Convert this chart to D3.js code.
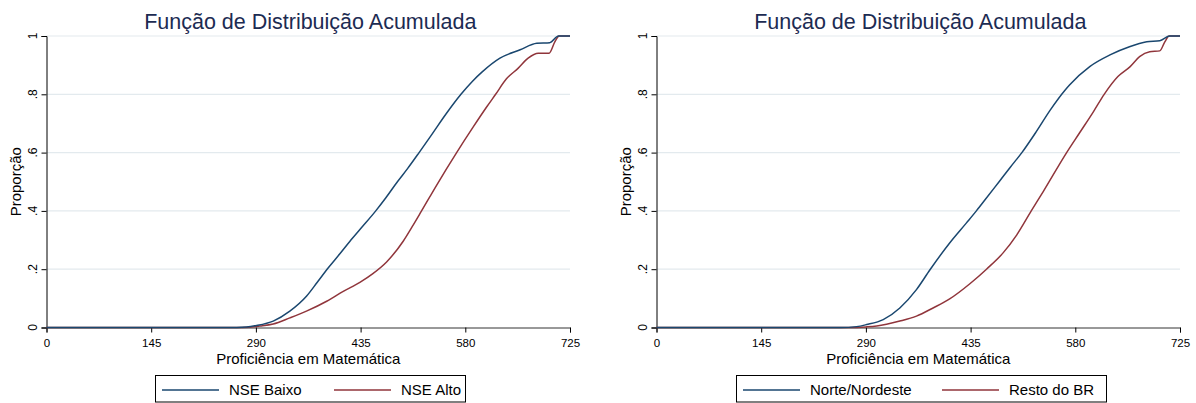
<!DOCTYPE html>
<html><head><meta charset="utf-8">
<script src="https://cdn.jsdelivr.net/npm/d3@7/dist/d3.min.js"></script>
<style>
body{margin:0;background:#fff}
svg{display:block}
text{font-family:"Liberation Sans",Arial,Helvetica,sans-serif}
</style>
</head><body>
<svg id="chart" width="1196" height="403"></svg>
<script>
// ---------- data ----------
const xTicks = [0, 145, 290, 435, 580, 725];
const yTicks = [0, 0.2, 0.4, 0.6, 0.8, 1];
const yTickLabels = ["0", ".2", ".4", ".6", ".8", "1"];
const chartTitle = "Função de Distribuição Acumulada";
const xTitle = "Proficiência em Matemática";
const yTitle = "Proporção";

// Left panel: NSE
const nseBaixoScore = [0, 250, 277, 291, 314, 337, 360, 375, 390, 406, 420, 434, 456, 470, 486, 500, 516, 533, 554, 574, 590, 603, 628, 656, 679, 697, 709, 725];
const nseBaixoProp  = [0, 0, 0.002, 0.007, 0.022, 0.056, 0.107, 0.155, 0.204, 0.252, 0.295, 0.336, 0.4, 0.445, 0.5, 0.545, 0.6, 0.66, 0.735, 0.8, 0.845, 0.876, 0.924, 0.953, 0.975, 0.977, 1, 1];
const nseAltoScore  = [0, 262, 280, 296, 314, 337, 360, 388, 411, 434, 452, 471, 494, 508, 519, 540, 568, 591, 610, 622, 637, 653, 667, 681, 696, 704, 710, 725];
const nseAltoProp   = [0, 0, 0.001, 0.005, 0.012, 0.033, 0.056, 0.09, 0.124, 0.155, 0.185, 0.225, 0.296, 0.352, 0.398, 0.487, 0.6, 0.688, 0.758, 0.8, 0.853, 0.889, 0.924, 0.941, 0.941, 0.98, 1, 1];

// Right panel: Região
const norteScore = [0, 255, 277, 291, 314, 337, 360, 379, 406, 429, 443, 455, 475, 490, 506, 526, 545, 566, 572, 600, 628, 655, 679, 697, 711, 725];
const norteProp  = [0, 0, 0.003, 0.01, 0.027, 0.067, 0.13, 0.199, 0.29, 0.358, 0.4, 0.438, 0.502, 0.55, 0.6, 0.672, 0.745, 0.815, 0.832, 0.895, 0.935, 0.963, 0.98, 0.984, 1, 1];
const restoScore = [0, 265, 290, 305, 337, 360, 383, 406, 434, 457, 480, 499, 519, 536, 568, 586, 605, 620, 639, 656, 669, 683, 697, 704, 710, 725];
const restoProp  = [0, 0, 0.002, 0.005, 0.022, 0.039, 0.067, 0.098, 0.15, 0.2, 0.256, 0.318, 0.4, 0.468, 0.6, 0.668, 0.74, 0.8, 0.861, 0.895, 0.929, 0.946, 0.949, 0.98, 1, 1];

const legendLeft  = ["NSE Baixo", "NSE Alto"];
const legendRight = ["Norte/Nordeste", "Resto do BR"];

// ---------- style / layout ----------
const BLUE = "#1a476f", RED = "#90353b", NAVY = "#1c2b52";
const svg = d3.select("#chart");

function drawPanel(L, s1x, s1y, s2x, s2y, labels) {
  const g = svg.append("g");
  const x = d3.scaleLinear().domain([0, 725]).range([L.x0, L.x1]);
  const y = d3.scaleLinear().domain([0, 1]).range([327.5, 36]);

  // gridlines
  g.selectAll("line.grid").data(yTicks.filter(d => d > 0)).join("line")
    .attr("x1", L.x0).attr("x2", L.x1)
    .attr("y1", d => y(d)).attr("y2", d => y(d))
    .attr("stroke", "#e3eaee").attr("stroke-width", 1.2);

  // y axis
  const ya = g.append("g").attr("transform", `translate(${L.x0},0)`)
    .call(d3.axisLeft(y).tickValues(yTicks).tickSize(5).tickFormat(""));
  ya.select(".domain").attr("stroke", "#000");
  ya.selectAll(".tick line").attr("stroke", "#000");
  g.selectAll("text.ytl").data(yTicks).join("text")
    .attr("transform", d => `translate(${L.x0 - 10},${y(d)}) rotate(-90)`)
    .attr("text-anchor", "middle").attr("font-size", 12).attr("fill", "#000")
    .text((d, i) => yTickLabels[i]);

  // x axis
  const xa = g.append("g").attr("transform", `translate(0,${y(0)})`)
    .call(d3.axisBottom(x).tickValues(xTicks).tickSize(5).tickPadding(6).tickFormat(d3.format("d")));
  xa.select(".domain").attr("stroke", "#333");
  xa.selectAll(".tick line").attr("stroke", "#000");
  xa.selectAll("text").attr("font-size", 11.5).attr("fill", "#000")
    .attr("font-family", '"Liberation Sans",Arial,sans-serif');

  // lines
  const line = d3.line().x(d => x(d[0])).y(d => y(d[1])).curve(d3.curveMonotoneX);
  g.append("path").datum(d3.zip(s2x, s2y)).attr("d", line)
    .attr("fill", "none").attr("stroke", RED).attr("stroke-width", 1.5);
  g.append("path").datum(d3.zip(s1x, s1y)).attr("d", line)
    .attr("fill", "none").attr("stroke", BLUE).attr("stroke-width", 1.5);

  // title
  g.append("text").attr("x", (L.x0 + L.x1) / 2 + 2).attr("y", 29)
    .attr("text-anchor", "middle").attr("font-size", 21.5).attr("fill", NAVY)
    .text(chartTitle);
  // axis titles
  g.append("text").attr("x", (L.x0 + L.x1) / 2).attr("y", 363.5)
    .attr("text-anchor", "middle").attr("font-size", 15).attr("fill", "#000")
    .text(xTitle);
  g.append("text").attr("transform", `translate(${L.x0 - 25.5},${y(0.5)}) rotate(-90)`)
    .attr("text-anchor", "middle").attr("font-size", 15).attr("fill", "#000")
    .text(yTitle);

  // legend
  const lg = g.append("g");
  lg.append("rect").attr("x", L.lx + 0.5).attr("y", 375.5).attr("width", L.lw).attr("height", 26.5)
    .attr("fill", "#fff").attr("stroke", "#000").attr("stroke-width", 1);
  const items = [{c: BLUE, t: labels[0], o: 0}, {c: RED, t: labels[1], o: L.col2}];
  items.forEach(it => {
    lg.append("line").attr("x1", L.lx + 7 + it.o).attr("x2", L.lx + 64 + it.o)
      .attr("y1", 390).attr("y2", 390).attr("stroke", it.c).attr("stroke-width", 1.5);
    lg.append("text").attr("x", L.lx + 74 + it.o).attr("y", 395)
      .attr("font-size", 15).attr("fill", "#000").text(it.t);
  });
}

drawPanel({x0: 46.5, x1: 570, lx: 155, lw: 310, col2: 172}, nseBaixoScore, nseBaixoProp, nseAltoScore, nseAltoProp, legendLeft);
drawPanel({x0: 656.5, x1: 1180, lx: 736, lw: 370, col2: 199}, norteScore, norteProp, restoScore, restoProp, legendRight);
</script>
</body></html>
